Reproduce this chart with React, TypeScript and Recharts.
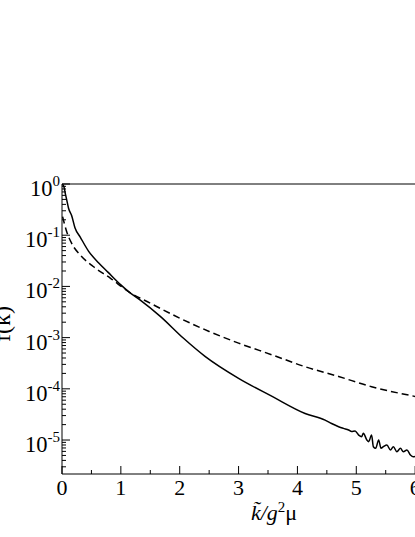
import { Line, LineChart, XAxis, YAxis } from "recharts";

// solid curve
const solidK = [
  0, 0.03, 0.06, 0.08, 0.11, 0.165, 0.22, 0.31, 0.45, 0.62, 0.78, 1.0, 1.13, 1.33, 1.67,
  2.06, 2.43, 3.0, 3.57, 4.13, 4.47, 4.58, 4.7, 4.78, 4.87, 4.92, 4.98, 5.04, 5.09, 5.12,
  5.18, 5.21, 5.26, 5.29, 5.33, 5.38, 5.42, 5.46, 5.52, 5.58, 5.63, 5.69, 5.75, 5.8, 5.86,
  5.92, 5.97, 6.05, 6.15, 6.3, 6.5, 6.8, 7.0,
];
const solidF = [
  1.0, 0.9, 0.62, 0.49, 0.34, 0.24, 0.14, 0.092, 0.049, 0.029, 0.019, 0.0107, 0.0079, 0.0054,
  0.0026, 0.00098, 0.00043, 1.6e-4, 7.1e-5, 3.3e-5, 2.45e-5, 2.1e-5, 1.82e-5, 1.69e-5, 1.57e-5,
  1.46e-5, 1.5e-5, 1.25e-5, 1.16e-5, 1.35e-5, 1.0e-5, 9.3e-6, 1.25e-5, 7.4e-6, 6.9e-6, 1.0e-5,
  6.9e-6, 7.4e-6, 8.0e-6, 6.4e-6, 7.4e-6, 5.9e-6, 6.9e-6, 5.9e-6, 6.4e-6, 5.1e-6, 4.7e-6,
  4.9e-6, 4.2e-6, 3.8e-6, 3.3e-6, 2.8e-6, 2.6e-6,
];

// dashed curve
const dashedK = [0.01, 0.08, 0.165, 0.31, 0.53, 0.82, 1.13, 1.5, 2.0, 2.5, 3.0, 3.57, 4.13, 4.7, 5.26, 6.0, 6.5, 7.0];
const dashedF = [
  0.23, 0.117, 0.069, 0.041, 0.0245, 0.0145, 0.0079, 0.0047, 0.0024, 0.00132, 7.8e-4, 4.6e-4,
  2.7e-4, 1.74e-4, 1.1e-4, 7.1e-5, 5.5e-5, 4.3e-5,
];

const xTicks = [0, 0.5, 1, 1.5, 2, 2.5, 3, 3.5, 4, 4.5, 5, 5.5, 6, 6.5, 7];
const yDecades = [1, 1e-1, 1e-2, 1e-3, 1e-4, 1e-5];
const yMinorSteps = [2, 3, 4, 5, 6, 7, 8, 9];
const yMin = 2.17e-6;

const yTicks = [
  ...yDecades,
  ...[1e-1, 1e-2, 1e-3, 1e-4, 1e-5, 1e-6].flatMap((d) => yMinorSteps.map((s) => s * d)),
].filter((v) => v >= yMin && v <= 1);

const solidData = solidK.map((k, i) => ({ k, f: solidF[i] }));
const dashedData = dashedK.map((k, i) => ({ k, f: dashedF[i] }));

const FONT = "'Liberation Serif', 'Times New Roman', serif";

const isDecade = (v: number) => Math.abs(Math.log10(v) - Math.round(Math.log10(v))) < 1e-6;

const LeftTick = (props: any) => {
  const { x, y, payload } = props;
  const v = payload.value;
  const major = isDecade(v);
  const exp = Math.round(Math.log10(v));
  return (
    <g>
      <line x1={x} y1={y} x2={x + (major ? 8 : 4)} y2={y} stroke="#000" />
      {major && (
        <text x={x - 2} y={y + 12} textAnchor="end" fontSize={22.5} fontFamily={FONT} fill="#000">
          10
          <tspan dy={-10} fontSize={15}>
            {String(exp)}
          </tspan>
        </text>
      )}
    </g>
  );
};

const BottomTick = (props: any) => {
  const { x, y, payload } = props;
  const v = payload.value;
  const major = Number.isInteger(v);
  return (
    <g>
      <line x1={x} y1={y} x2={x} y2={y - (major ? 8 : 4)} stroke="#000" />
      {major && (
        <text x={x} y={y + 21} textAnchor="middle" fontSize={22} fontFamily={FONT} fill="#000">
          {v}
        </text>
      )}
    </g>
  );
};

const TopTick = (props: any) => {
  const { x, y, payload } = props;
  const major = Number.isInteger(payload.value);
  return <line x1={x} y1={y} x2={x} y2={y + (major ? 8 : 4)} stroke="#000" />;
};

const XTitle = (props: any) => {
  const { x, y, width } = props.viewBox;
  return (
    <text x={x + width / 2 + 6} y={y + 46} textAnchor="middle" fontSize={22} fontFamily={FONT} fill="#000">
      <tspan fontStyle="italic">k&#x0303;/g</tspan>
      <tspan dy={-8} fontSize={15}>
        2
      </tspan>
      <tspan dy={8}>μ</tspan>
    </text>
  );
};

const YTitle = (props: any) => {
  const { y, height } = props.viewBox;
  const cy = y + height / 2 - 5;
  return (
    <text
      x={10}
      y={cy}
      transform={`rotate(-90, 10, ${cy})`}
      textAnchor="middle"
      fontSize={24}
      fontFamily={FONT}
      fill="#000"
    >
      f(k)
    </text>
  );
};

export default function App() {
  return (
    <div
      style={{
        position: "absolute",
        left: 0,
        top: 0,
        width: 415,
        height: 537,
        overflow: "hidden",
        background: "#fff",
      }}
    >
      <LineChart width={490} height={537} margin={{ top: 174, right: 16, bottom: 0, left: 0 }}>
        <XAxis
          dataKey="k"
          type="number"
          domain={[0, 7]}
          ticks={xTicks}
          interval={0}
          allowDataOverflow
          height={63}
          tickSize={0}
          tickMargin={0}
          tick={BottomTick}
          axisLine={{ stroke: "#000" }}
          label={XTitle}
        />
        <XAxis
          xAxisId="top"
          orientation="top"
          type="number"
          domain={[0, 7]}
          ticks={xTicks}
          interval={0}
          allowDataOverflow
          height={10}
          tickSize={0}
          tickMargin={0}
          tick={TopTick}
          axisLine={{ stroke: "#000" }}
        />
        <YAxis
          type="number"
          scale="log"
          domain={[yMin, 1]}
          ticks={yTicks}
          interval={0}
          allowDataOverflow
          width={62}
          tickSize={0}
          tickMargin={0}
          tick={LeftTick}
          axisLine={{ stroke: "#000" }}
          label={YTitle}
        />
        <Line
          data={dashedData}
          dataKey="f"
          type="monotone"
          stroke="#000"
          strokeWidth={1.5}
          strokeDasharray="7 4"
          dot={false}
          activeDot={false}
          isAnimationActive={false}
        />
        <Line
          data={solidData}
          dataKey="f"
          type="monotone"
          stroke="#000"
          strokeWidth={1.5}
          dot={false}
          activeDot={false}
          isAnimationActive={false}
        />
      </LineChart>
    </div>
  );
}
